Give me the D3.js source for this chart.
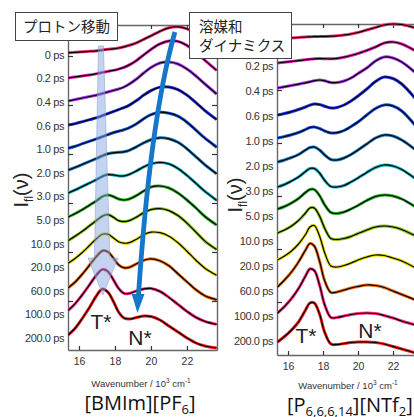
<!DOCTYPE html>
<html><head><meta charset="utf-8">
<script src="https://cdn.jsdelivr.net/npm/d3@7"></script>
<style>html,body{margin:0;padding:0;background:#fff;} svg{display:block;}</style>
</head><body>
<svg id="c" width="414" height="417"></svg>
<script>
// ---------- data ----------
const timeLabels = ["0 ps","0.2 ps","0.4 ps","0.6 ps","1.0 ps","2.0 ps","3.0 ps","5.0 ps","10.0 ps","20.0 ps","60.0 ps","100.0 ps","200.0 ps"];
const traceColors = ["#ee3070","#e824b4","#a838ec","#2434f4","#1e56e4","#2078b8","#1aaab8","#34aa30","#88c018","#e0d800","#e86a18","#ff2c80","#ff1c1c"];
const xTickValues = [16, 18, 20, 22];
const stackStepLeft = 23.6;   // vertical offset between spectra (a.u.)
const stackStepRight = 25;

// [BMIm][PF6]  wavenumber grid (10^3 cm^-1)
const wnLeft = [15.4,15.8,16.2,16.6,17.0,17.3,17.6,17.9,18.2,18.5,18.8,19.2,19.6,20.0,20.5,21.0,21.5,22.0,22.5,23.0,23.65];
const bmim_0ps   = [14,14.5,15,15.5,16,16.8,17.5,18,18.8,20,21.5,24,27.5,31,35.5,39,40,38,34,28,21];
const bmim_02ps  = [12.5,13.5,14.5,15.5,16.8,18,19,20,21.3,23,25.5,30,35.5,41,46.5,49.5,49,45,38,30,20];
const bmim_04ps  = [13,14.5,16,17.5,19,20.5,22,23.5,25,27,30,35,41,46.5,51,52,50,45,38,30,20];
const bmim_06ps  = [12.6,14,16,18,20,22,24,26,28,30,32.5,37,42.5,47,50.5,50.5,48,42.5,35,27,18];
const bmim_1ps   = [13,15,17.5,20,22.5,24.5,26.5,28.5,30,31.5,33.5,37.5,42.5,46.5,49,48,45,39,31,23,14];
const bmim_2ps   = [14.8,17.5,20.5,23.5,26.5,29,31,32,32.5,33,34.5,38,42,45,47,46,42.5,36,28,20,11];
const bmim_3ps   = [15.4,18.5,22,25.5,29,32,33.8,33.5,32.5,32.5,34,37.5,41.5,44.5,46,44.5,40,33,25,17,8];
const bmim_5ps   = [15,18.5,22.5,27,31.5,35.5,37,35.5,33,32,33,36.5,41,45,46,44,39,32,24,15.5,7];
const bmim_10ps  = [15,19.5,24.5,30,35.5,39.5,41,38.5,35,34,35,38.5,43,46,47,45,40,32.5,23.5,14.5,6];
const bmim_20ps  = [16,21,27,34,41,45,45,41.5,37.5,36,36.5,40,44.5,47,46.5,43,36.5,28,19,11,4];
const bmim_60ps  = [15,21,29,38,47,52,51,45,38,35,35.5,39,42.5,44,42,37,29,21,13,7,3];
const bmim_100ps = [16,23,32,42,52,57,55,47,38,33,33,35.5,37.5,38,35,29,22,15,9,5,2];
const bmim_200ps = [15,22,32,43,55,61,58,49,38,32,31,32.5,34,33.5,30,24,18,12,7,4,2];

// [P6,6,6,14][NTf2]
const wnRight = [15.4,15.8,16.2,16.6,17.0,17.25,17.5,17.8,18.1,18.45,18.8,19.2,19.6,20.0,20.5,21.0,21.5,22.0,22.5,23.3];
const p_0ps   = [16,16.5,17,17.5,18,18.2,18.4,18.5,18.6,18.8,19.2,20,21,22.5,25,27.5,30,31,30.5,27];
const p_02ps  = [17,17.8,18.6,19.4,20.3,20.8,21.2,21.4,21.3,21.2,21.6,22.8,24.5,26.5,29.5,33,37,38,36,29];
const p_04ps  = [17,18.2,19.5,20.8,22.2,23.2,24.3,25,24.2,22.5,22.5,24,27,31.5,37,44,48,47,43,32];
const p_06ps  = [15,16.5,18.3,20.5,23,24.8,26,25.5,23.8,22,22.5,25,29,34,41,48.5,53,51.5,46,31];
const p_1ps   = [17,18.5,20.3,22.5,25.5,27.5,28,26.5,24,22,22.3,24.5,28.5,33,40,46.5,50,49,44,29];
const p_2ps   = [18,20,22.5,25.5,30,32.5,33,30,25,20.5,20,22,25.5,30,36,42,45,44,40,30];
const p_3ps   = [18,20.5,24,28,33.5,36.5,36.5,32,24.5,18.5,18,19.5,23,27,32.5,37.5,40,39,35.5,26];
const p_5ps   = [21,23.5,27,31.5,37.5,40.5,40.5,34.5,25,17.5,16.5,18,21,24.5,29.5,33.5,35,34,31,23];
const p_10ps  = [22,25,29,34.5,42,47,47,39,26.5,16.5,15.5,16.5,18.5,21.5,25,28,29,28,25.5,19];
const p_20ps  = [20,24,29,36,45.5,53,54.5,44,27,14,13,14.5,17,20,23,25,24.5,22,19,12];
const p_60ps  = [18,25,33,43,55,61.5,59,44,24,12.5,13,15,17,18.5,20,19.5,17.5,14,10.5,5];
const p_100ps = [17,23.5,31.5,41.5,54,61,59.5,45,25,12.5,12.5,14,15.5,16.5,17,16.5,14.5,12,9,5];
const p_200ps = [13,18.5,25,33,45,52,52,41,22.5,11,10.5,11.5,12.5,13,13,12.5,11,8.5,6,2];

const bmimSeries = [bmim_0ps,bmim_02ps,bmim_04ps,bmim_06ps,bmim_1ps,bmim_2ps,bmim_3ps,bmim_5ps,bmim_10ps,bmim_20ps,bmim_60ps,bmim_100ps,bmim_200ps];
const pSeries = [p_0ps,p_02ps,p_04ps,p_06ps,p_1ps,p_2ps,p_3ps,p_5ps,p_10ps,p_20ps,p_60ps,p_100ps,p_200ps];

// ---------- layout ----------
const svg = d3.select("#c");
const font = "'Liberation Sans', Arial, sans-serif";
const L = {x0:68, x1:217, y0:25, y1:350};
const R = {x0:277, x1:421, y0:24, y1:355};
const xL = d3.scaleLinear().domain([15.39, 23.67]).range([L.x0, L.x1]);
const yL = d3.scaleLinear().domain([0, 325]).range([L.y1, L.y0]);
const xR = d3.scaleLinear().domain([15.37, 23.6]).range([R.x0, R.x1]);
const yR = d3.scaleLinear().domain([0, 331]).range([R.y1, R.y0]);

const defs = svg.append("defs");
defs.append("clipPath").attr("id","clipL").append("rect").attr("x",L.x0).attr("y",L.y0-3).attr("width",L.x1-L.x0).attr("height",L.y1-L.y0+3);
defs.append("clipPath").attr("id","clipR").append("rect").attr("x",R.x0).attr("y",R.y0-3).attr("width",R.x1-R.x0).attr("height",R.y1-R.y0+3);

function frame(x, y, yTickStep) {
  const g = svg.append("g");
  const [ya, yb] = y.domain();
  const yt = d3.range(yTickStep, yb, yTickStep);
  g.append("g").attr("transform",`translate(0,${y.range()[0]})`)
    .call(d3.axisBottom(x).tickValues(xTickValues).tickSize(-4).tickSizeOuter(0).tickPadding(8).tickFormat(d3.format("d")));
  g.append("g").attr("transform",`translate(0,${y.range()[1]})`)
    .call(d3.axisTop(x).tickValues(xTickValues).tickSize(-4).tickSizeOuter(0).tickFormat(""));
  g.append("g").attr("transform",`translate(${x.range()[0]},0)`)
    .call(d3.axisLeft(y).tickValues(yt).tickSize(-5).tickSizeOuter(0).tickFormat(""));
  g.append("g").attr("transform",`translate(${x.range()[1]},0)`)
    .call(d3.axisRight(y).tickValues(yt).tickSize(-5).tickSizeOuter(0).tickFormat(""));
  g.selectAll(".domain").attr("stroke","#666").attr("stroke-width",1.4);
  g.selectAll(".tick line").attr("stroke","#333").attr("stroke-width",1.2);
  g.selectAll(".tick text").attr("font-family",font).attr("font-size",10.5).attr("fill","#333");
}
frame(xL, yL, 49);
frame(xR, yR, 53);

function traces(series, wn, x, y, step, clip) {
  const g = svg.append("g").attr("clip-path",`url(#${clip})`);
  const n = series.length;
  series.forEach((vals, i) => {
    const off = (n - 1 - i) * step;
    const pts = wn.map((w, k) => [w, vals[k]]);
    const line = d3.line().x(d => x(d[0])).y(d => y(off + d[1])).curve(d3.curveCatmullRom.alpha(0.5));
    g.append("path").attr("d", line(pts)).attr("fill","none").attr("stroke",traceColors[i]).attr("stroke-width",3.0);
    g.append("path").attr("d", line(pts)).attr("fill","none").attr("stroke","#000").attr("stroke-width",1.2);
  });
}
traces(bmimSeries, wnLeft, xL, yL, stackStepLeft, "clipL");
traces(pSeries, wnRight, xR, yR, stackStepRight, "clipR");

function timeText(x, y, step, level, xpos) {
  const n = timeLabels.length;
  svg.append("g").selectAll("text").data(timeLabels).join("text")
    .attr("x", xpos).attr("y", (d, i) => y((n - 1 - i) * step + level))
    .attr("text-anchor","end").attr("dominant-baseline","central")
    .attr("font-family",font).attr("font-size",11).attr("letter-spacing",-0.4).attr("fill","#333")
    .text(d => d);
}
timeText(xL, yL, stackStepLeft, 12, 64);
timeText(xR, yR, stackStepRight, 14, 273);

// y labels
function ylabel(cx, cy) {
  const t = svg.append("text").attr("transform",`translate(${cx},${cy}) rotate(-90)`)
    .attr("text-anchor","middle").attr("font-family",font).attr("font-size",20).attr("fill","#222");
  t.append("tspan").text("I");
  t.append("tspan").attr("font-size",12).attr("dy",5).text("fl");
  t.append("tspan").attr("dy",-5).text("(ν)");
}
ylabel(28, 190);
ylabel(242, 195);

// x labels
function xlabel(cx, cy) {
  const t = svg.append("text").attr("x",cx).attr("y",cy).attr("text-anchor","middle")
    .attr("font-family",font).attr("font-size",9.5).attr("fill","#333");
  t.append("tspan").text("Wavenumber / 10");
  t.append("tspan").attr("font-size",6.5).attr("dy",-4).text("3");
  t.append("tspan").attr("dy",4).text(" cm");
  t.append("tspan").attr("font-size",6.5).attr("dy",-4).text("-1");
}
xlabel(141, 387);
xlabel(348, 389);

// titles
const tfont = "'Open Sans', 'Noto Sans', sans-serif";
const t1 = svg.append("text").attr("x",140).attr("y",410).attr("text-anchor","middle").attr("font-family",tfont).attr("font-size",20).attr("fill","#111");
t1.append("tspan").text("[BMIm][PF");
t1.append("tspan").attr("font-size",13).attr("dy",4).text("6");
t1.append("tspan").attr("dy",-4).text("]");
const t2 = svg.append("text").attr("x",287).attr("y",412).attr("font-family",tfont).attr("font-size",20).attr("fill","#111");
t2.append("tspan").text("[P");
t2.append("tspan").attr("font-size",13).attr("dy",4).text("6,6,6,14");
t2.append("tspan").attr("dy",-4).text("][NTf");
t2.append("tspan").attr("font-size",13).attr("dy",4).text("2");
t2.append("tspan").attr("dy",-4).text("]");

// proton-transfer translucent arrow (data coords of left panel)
const protonShape = [[17.08,304],[17.36,304],[17.72,92],[18.17,92],[17.33,55],[16.50,92],[16.86,92]];
svg.append("path")
  .attr("d", d3.line().x(d => xL(d[0])).y(d => yL(d[1]))(protonShape) + "Z")
  .attr("fill","#8aa8e0").attr("fill-opacity",0.5).attr("stroke","#7d98d0").attr("stroke-opacity",0.6).attr("stroke-width",0.8);

// solvation arrow (curved)
const solv = [[21.33,318],[19.95,230],[19.30,53]];
const p = d3.path();
p.moveTo(xL(solv[0][0]), yL(solv[0][1]));
p.quadraticCurveTo(xL(solv[1][0]), yL(solv[1][1]), xL(solv[2][0]), yL(solv[2][1]));
svg.append("path").attr("d", p.toString()).attr("fill","none").attr("stroke","#1677c9").attr("stroke-width",4.8);
const head = [[18.93,56],[19.64,56],[19.25,37]];
svg.append("path").attr("d", d3.line().x(d => xL(d[0])).y(d => yL(d[1]))(head) + "Z").attr("fill","#1677c9");

// T*, N* labels
function band(txt, x, y) {
  svg.append("text").attr("x",x).attr("y",y).attr("text-anchor","middle").attr("dominant-baseline","central")
    .attr("font-family",font).attr("font-size",21).attr("fill","#222").text(txt);
}
band("T*", xL(17.22), yL(29));
band("N*", xL(19.39), yL(13));
band("T*", xR(17.03), yR(20));
band("N*", xR(20.68), yR(25));

// annotation boxes
const jp = "'Noto Sans CJK JP', sans-serif";
svg.append("rect").attr("x",15.5).attr("y",12.5).attr("width",102).attr("height",28).attr("fill","#fff").attr("stroke","#444").attr("stroke-width",1);
svg.append("text").attr("x",66.5).attr("y",31.5).attr("text-anchor","middle").attr("font-family",jp).attr("font-size",14.5).attr("fill","#222").text("プロトン移動");
svg.append("rect").attr("x",189.5).attr("y",12.5).attr("width",102).attr("height",46).attr("fill","#fff").attr("stroke","#444").attr("stroke-width",1);
svg.append("text").attr("x",199).attr("y",32).attr("font-family",jp).attr("font-size",14.5).attr("fill","#222").text("溶媒和");
svg.append("text").attr("x",199).attr("y",51).attr("font-family",jp).attr("font-size",14.5).attr("fill","#222").text("ダイナミクス");
</script>
</body></html>
